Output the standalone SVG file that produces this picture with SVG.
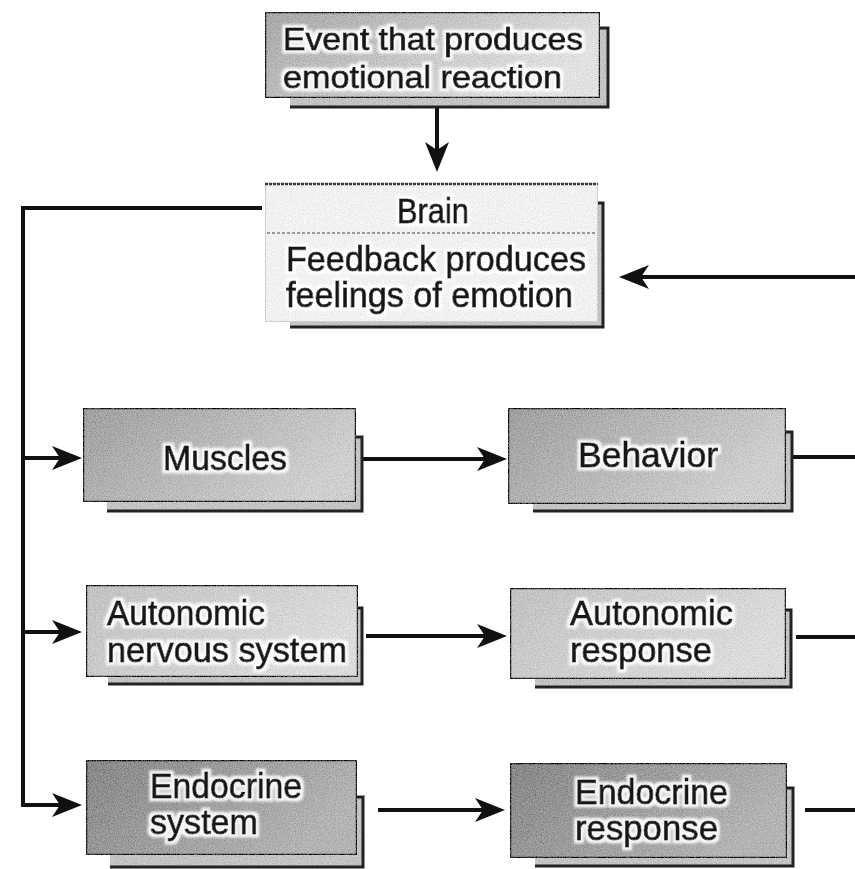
<svg xmlns="http://www.w3.org/2000/svg" width="855" height="869" viewBox="0 0 855 869">
<defs>
<style>
.t{font-family:"Liberation Sans",Arial,Helvetica,sans-serif;font-size:35px;fill:#141414;stroke:#141414;stroke-width:0.9}
.s{font-size:32px}
.box{stroke:#2b2b2b;stroke-width:2.5}
.sh{fill:#c4c4c4;stroke:none}
.shl{fill:none;stroke:#222;stroke-width:3}
.c{fill:none;stroke:#111;stroke-width:4}
</style>
<marker id="ah" markerUnits="userSpaceOnUse" viewBox="0 0 30 24" refX="22" refY="12" markerWidth="30" markerHeight="24" orient="auto">
<path d="M0,0 L30,12 L0,24 L8,12 Z" fill="#111"/>
</marker>
<filter id="grain" x="0" y="0" width="1" height="1">
<feTurbulence type="fractalNoise" baseFrequency="0.85" numOctaves="2" seed="7" result="n"/>
<feColorMatrix in="n" type="matrix" values="0.33 0.33 0.33 0 0 0.33 0.33 0.33 0 0 0.33 0.33 0.33 0 0 0 0 0 0 1" result="g"/>
<feComposite in="SourceGraphic" in2="g" operator="arithmetic" k1="0" k2="1" k3="0.7" k4="-0.35" result="m"/>
<feComposite in="m" in2="SourceGraphic" operator="in"/>
</filter>
<filter id="halo" x="-5%" y="-25%" width="110%" height="150%">
<feMorphology in="SourceAlpha" operator="dilate" radius="2.5" result="d"/>
<feFlood flood-color="#ffffff" flood-opacity="0.9"/>
<feComposite in2="d" operator="in" result="h"/>
<feGaussianBlur in="h" stdDeviation="0.8" result="hb"/>
<feMerge><feMergeNode in="hb"/><feMergeNode in="SourceGraphic"/></feMerge>
</filter>
<linearGradient id="gEvent" x1="0" y1="0" x2="1" y2="0.4"><stop offset="0" stop-color="#a8a8a8"/><stop offset="1" stop-color="#e2e2e2"/></linearGradient>
<linearGradient id="gMid" x1="0" y1="0" x2="1" y2="0.4"><stop offset="0" stop-color="#a0a0a0"/><stop offset="1" stop-color="#cfcfcf"/></linearGradient>
<linearGradient id="gLight" x1="0" y1="0" x2="1" y2="0.4"><stop offset="0" stop-color="#c2c2c2"/><stop offset="1" stop-color="#dcdcdc"/></linearGradient>
<linearGradient id="gDark" x1="0" y1="0" x2="1" y2="0.4"><stop offset="0" stop-color="#888888"/><stop offset="1" stop-color="#b4b4b4"/></linearGradient>
</defs>
<rect width="855" height="869" fill="#ffffff"/>

<g id="connectors">
<line class="c" x1="437" y1="108" x2="437" y2="164" marker-end="url(#ah)"/>
<line class="c" x1="855" y1="277" x2="627" y2="277" marker-end="url(#ah)"/>
<path class="c" d="M262,208 H23 V805 H74" marker-end="url(#ah)"/>
<line class="c" x1="23" y1="458" x2="74" y2="458" marker-end="url(#ah)"/>
<line class="c" x1="23" y1="632" x2="74" y2="632" marker-end="url(#ah)"/>
<line class="c" x1="362" y1="459" x2="499" y2="459" marker-end="url(#ah)"/>
<line class="c" x1="366" y1="636" x2="499" y2="636" marker-end="url(#ah)"/>
<line class="c" x1="378" y1="810" x2="497" y2="810" marker-end="url(#ah)"/>
<line class="c" x1="793" y1="457" x2="855" y2="457"/>
<line class="c" x1="796" y1="637" x2="855" y2="637"/>
<line class="c" x1="805" y1="810" x2="855" y2="810"/>
</g>

<g id="event">
<rect class="sh" x="290" y="28" width="318" height="79" filter="url(#grain)"/>
<polyline class="shl" points="600,28 608,28 608,107 290,107"/>
<rect class="box" x="265" y="12" width="335" height="86" fill="url(#gEvent)" filter="url(#grain)"/>
<g filter="url(#halo)">
<text class="t s" x="283" y="50" textLength="300" lengthAdjust="spacingAndGlyphs">Event that produces</text>
<text class="t s" x="283" y="88" textLength="279" lengthAdjust="spacingAndGlyphs">emotional reaction</text>
</g>
</g>

<g id="brain">
<rect class="sh" x="290" y="203" width="313" height="123" fill="#dedede" filter="url(#grain)"/>
<polyline class="shl" points="598,203 603,203 603,327 290,327"/>
<rect x="265" y="183" width="333" height="139" fill="#f1f1f1" stroke="#c4c4c4" stroke-width="1.5" filter="url(#grain)"/>
<line x1="265" y1="184" x2="598" y2="184" stroke="#3a3a3a" stroke-width="2.5" stroke-dasharray="3 1"/>
<line x1="267" y1="233" x2="597" y2="233" stroke="#9a9a9a" stroke-width="2" stroke-dasharray="3 2"/>
<g filter="url(#halo)">
<text class="t" x="433" y="223" text-anchor="middle" textLength="72" lengthAdjust="spacingAndGlyphs">Brain</text>
<text class="t" x="286" y="271" textLength="300" lengthAdjust="spacingAndGlyphs">Feedback produces</text>
<text class="t" x="286" y="307" textLength="287" lengthAdjust="spacingAndGlyphs">feelings of emotion</text>
</g>
</g>

<g id="muscles">
<rect class="sh" x="107" y="437" width="255" height="73" filter="url(#grain)"/>
<polyline class="shl" points="356,437 362,437 362,511 107,511"/>
<rect class="box" x="83" y="408" width="273" height="94" fill="url(#gMid)" filter="url(#grain)"/>
<g filter="url(#halo)">
<text class="t" x="225" y="470" text-anchor="middle" textLength="124" lengthAdjust="spacingAndGlyphs">Muscles</text>
</g>
</g>

<g id="behavior">
<rect class="sh" x="533" y="432" width="259" height="79" filter="url(#grain)"/>
<polyline class="shl" points="786,432 792,432 792,511 533,511"/>
<rect class="box" x="508" y="408" width="278" height="96" fill="url(#gMid)" filter="url(#grain)"/>
<g filter="url(#halo)">
<text class="t" x="648" y="467" text-anchor="middle" textLength="140" lengthAdjust="spacingAndGlyphs">Behavior</text>
</g>
</g>

<g id="ans">
<rect class="sh" x="108" y="608" width="254" height="75" filter="url(#grain)"/>
<polyline class="shl" points="358,608 362,608 362,684 108,684"/>
<rect class="box" x="86" y="585" width="272" height="92" fill="url(#gLight)" filter="url(#grain)"/>
<g filter="url(#halo)">
<text class="t" x="107" y="625" textLength="158" lengthAdjust="spacingAndGlyphs">Autonomic</text>
<text class="t" x="107" y="662" textLength="240" lengthAdjust="spacingAndGlyphs">nervous system</text>
</g>
</g>

<g id="autonomic-response">
<rect class="sh" x="535" y="610" width="256" height="76" filter="url(#grain)"/>
<polyline class="shl" points="786,610 791,610 791,687 535,687"/>
<rect class="box" x="510" y="588" width="276" height="91" fill="url(#gLight)" filter="url(#grain)"/>
<g filter="url(#halo)">
<text class="t" x="570" y="625" textLength="163" lengthAdjust="spacingAndGlyphs">Autonomic</text>
<text class="t" x="570" y="662" textLength="142" lengthAdjust="spacingAndGlyphs">response</text>
</g>
</g>

<g id="endocrine-system">
<rect class="sh" x="110" y="797" width="253" height="70" filter="url(#grain)"/>
<polyline class="shl" points="357,797 363,797 363,867 110,867"/>
<rect class="box" x="86" y="760" width="271" height="95" fill="url(#gDark)" filter="url(#grain)"/>
<g filter="url(#halo)">
<text class="t" x="150" y="798" textLength="152" lengthAdjust="spacingAndGlyphs">Endocrine</text>
<text class="t" x="150" y="834" textLength="108" lengthAdjust="spacingAndGlyphs">system</text>
</g>
</g>

<g id="endocrine-response">
<rect class="sh" x="535" y="788" width="258" height="78" filter="url(#grain)"/>
<polyline class="shl" points="787,788 793,788 793,866 535,866"/>
<rect class="box" x="510" y="763" width="277" height="95" fill="url(#gDark)" filter="url(#grain)"/>
<g filter="url(#halo)">
<text class="t" x="575" y="804" textLength="153" lengthAdjust="spacingAndGlyphs">Endocrine</text>
<text class="t" x="575" y="840" textLength="143" lengthAdjust="spacingAndGlyphs">response</text>
</g>
</g>
</svg>
